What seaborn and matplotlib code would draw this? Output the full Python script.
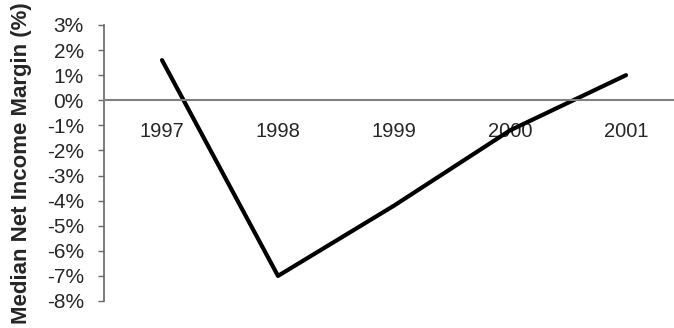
import matplotlib
matplotlib.use("Agg")
import matplotlib.pyplot as plt
import seaborn as sns
import pandas as pd
from matplotlib.ticker import FixedLocator

# data
years = ["1997", "1998", "1999", "2000", "2001"]
margin = [1.6, -7.0, -4.2, -1.2, 1.0]
yticks = [-8, -7, -6, -5, -4, -3, -2, -1, 0, 1, 2, 3]
ytick_labels = ["%d%%" % v for v in yticks]

df = pd.DataFrame({"year": years, "margin": margin})

sns.set_style("white")
plt.rcParams["font.family"] = ["Liberation Sans", "DejaVu Sans"]

fig = plt.figure(figsize=(6.74, 3.28), dpi=100)
ax = fig.add_axes([104/674, 27/328, 580/674, 276/328])

sns.lineplot(data=df, x="year", y="margin", color="black", linewidth=3, ax=ax, sort=False)

ax.set_xlim(-0.5, 4.5)
ax.set_ylim(-8, 3)
ax.set_yticks(yticks)
ax.set_yticklabels(ytick_labels)

for s in ["top", "right"]:
    ax.spines[s].set_visible(False)
ax.spines["bottom"].set_position(("data", 0))
ax.spines["bottom"].set_color("#808080")
ax.spines["bottom"].set_linewidth(1.5)
ax.spines["left"].set_color("#666666")
ax.spines["left"].set_linewidth(1.2)

# category ticks on the boundaries, labels under the centres
ax.xaxis.set_minor_locator(FixedLocator([-0.5, 0.5, 1.5, 2.5, 3.5, 4.5]))
ax.tick_params(axis="x", which="major", length=0, pad=16, labelsize=14.5)
ax.tick_params(axis="x", which="minor", length=4.5, width=1, color="#666666", direction="out")
ax.tick_params(axis="y", length=4.5, width=1, color="#666666", direction="out", pad=10, labelsize=15, left=True)

ax.set_xlabel("")
ax.set_ylabel("Median Net Income Margin (%)", fontsize=16, fontweight="bold")
ax.yaxis.set_label_coords(-0.124, 0.5)

fig.savefig("out.png", dpi=100)
